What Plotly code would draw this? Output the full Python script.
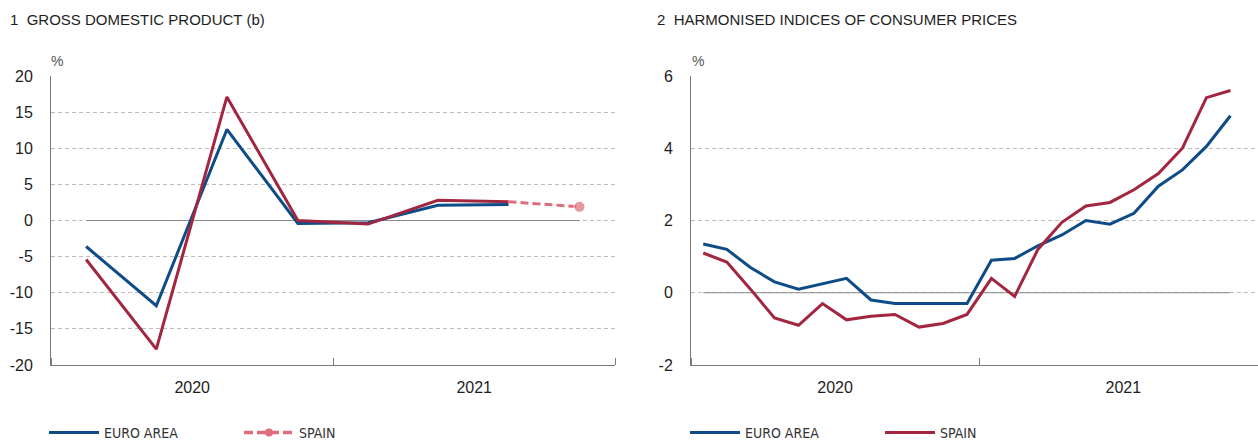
import plotly.graph_objects as go

# ---------------- data ----------------
quarters = ["2020-01-01", "2020-04-01", "2020-07-01", "2020-10-01",
            "2021-01-01", "2021-04-01", "2021-07-01", "2021-10-01"]
gdp_euro = [-3.6, -11.8, 12.6, -0.4, -0.3, 2.1, 2.2]
gdp_spain = [-5.4, -17.8, 17.1, 0.0, -0.5, 2.8, 2.6]
gdp_spain_proj_x = ["2021-07-01", "2021-10-01"]
gdp_spain_proj = [2.6, 1.9]
gdp_ticks = [-20, -15, -10, -5, 0, 5, 10, 15, 20]
gdp_ticktext = ["-20", "-15", "-10", "-5", "0", "5", "10", "15", "20"]

months = ["2020-01-01", "2020-02-01", "2020-03-01", "2020-04-01", "2020-05-01", "2020-06-01",
          "2020-07-01", "2020-08-01", "2020-09-01", "2020-10-01", "2020-11-01", "2020-12-01",
          "2021-01-01", "2021-02-01", "2021-03-01", "2021-04-01", "2021-05-01", "2021-06-01",
          "2021-07-01", "2021-08-01", "2021-09-01", "2021-10-01", "2021-11-01"]
hicp_euro = [1.35, 1.2, 0.7, 0.3, 0.1, 0.25, 0.4, -0.2, -0.3, -0.3, -0.3, -0.3,
             0.9, 0.95, 1.3, 1.6, 2.0, 1.9, 2.2, 2.95, 3.4, 4.05, 4.9]
hicp_spain = [1.1, 0.85, 0.1, -0.7, -0.9, -0.3, -0.75, -0.65, -0.6, -0.95, -0.85, -0.6,
              0.4, -0.1, 1.2, 1.95, 2.4, 2.5, 2.85, 3.3, 4.0, 5.4, 5.6]
hicp_ticks = [-2, 0, 2, 4, 6]
hicp_ticktext = ["-2", "0", "2", "4", "6"]

BLUE = "#0E4C87"
RED = "#A32640"
PINK = "#DE6E7C"
ZERO = "#8A8A8A"
GRID = "#BDBDBD"
AXIS = "#7A7A7A"
TXT = "#1E1E1E"
FONT = "Liberation Sans, Arial, sans-serif"
NARROW = "Liberation Sans Narrow, DejaVu Sans Condensed, Arial Narrow, sans-serif"

fig = go.Figure()

# ---- left chart: GDP ----
fig.add_trace(go.Scatter(x=quarters, y=[0] * len(quarters), mode="lines",
                         line=dict(color=ZERO, width=1), xperiod="M3", xperiodalignment="middle",
                         showlegend=False, hoverinfo="skip", xaxis="x", yaxis="y"))
fig.add_trace(go.Scatter(x=quarters[:len(gdp_euro)], y=gdp_euro, mode="lines", name="EURO AREA",
                         line=dict(color=BLUE, width=3), xperiod="M3", xperiodalignment="middle",
                         legend="legend", xaxis="x", yaxis="y"))
fig.add_trace(go.Scatter(x=quarters[:len(gdp_spain)], y=gdp_spain, mode="lines", name="SPAIN",
                         line=dict(color=RED, width=3), xperiod="M3", xperiodalignment="middle",
                         showlegend=False, xaxis="x", yaxis="y"))
fig.add_trace(go.Scatter(x=gdp_spain_proj_x, y=gdp_spain_proj, mode="lines+markers", name="SPAIN",
                         line=dict(color=PINK, width=3, dash="8px,4px"),
                         marker=dict(color=PINK, size=[0, 11]),
                         xperiod="M3", xperiodalignment="middle",
                         showlegend=False, xaxis="x", yaxis="y"))
# legend entry for Spain (dashed line with dot)
fig.add_trace(go.Scatter(x=[None], y=[None], mode="lines+markers", name="SPAIN",
                         line=dict(color=PINK, width=3.5, dash="9px,4px"),
                         marker=dict(color=PINK, size=8),
                         legend="legend", xaxis="x", yaxis="y"))

# ---- right chart: HICP ----
fig.add_trace(go.Scatter(x=months, y=[0] * len(months), mode="lines",
                         line=dict(color=ZERO, width=1), xperiod="M1", xperiodalignment="middle",
                         showlegend=False, hoverinfo="skip", xaxis="x2", yaxis="y2"))
fig.add_trace(go.Scatter(x=months, y=hicp_euro, mode="lines", name="EURO AREA",
                         line=dict(color=BLUE, width=3), xperiod="M1", xperiodalignment="middle",
                         legend="legend2", xaxis="x2", yaxis="y2"))
fig.add_trace(go.Scatter(x=months, y=hicp_spain, mode="lines", name="SPAIN",
                         line=dict(color=RED, width=3), xperiod="M1", xperiodalignment="middle",
                         legend="legend2", xaxis="x2", yaxis="y2"))

W, H = 1258, 443
ydom = [1 - 365 / H, 1 - 76 / H]

xcommon = dict(type="date", dtick="M12", tick0="2020-01-01", tickformat="%Y",
               ticklabelmode="period", ticks="inside", ticklen=7, tickcolor=AXIS, tickwidth=1,
               showline=True, linecolor=AXIS, linewidth=1, showgrid=False, zeroline=False,
               tickfont=dict(family=FONT, size=16, color=TXT), ticklabelstandoff=8,
               fixedrange=True)
ycommon = dict(showline=True, linecolor=AXIS, linewidth=1, ticks="", showgrid=True,
               gridcolor=GRID, gridwidth=1, griddash="4px,3px", zeroline=False,
               tickmode="array",
               tickfont=dict(family=FONT, size=16, color=TXT), ticklabelstandoff=14,
               fixedrange=True)

legcommon = dict(orientation="h", yanchor="middle", xanchor="left", bgcolor="rgba(0,0,0,0)",
                 font=dict(family=NARROW, size=14, color="#333333"), itemwidth=50,
                 entrywidth=130, entrywidthmode="pixels", itemclick=False, itemdoubleclick=False)

fig.update_layout(
    width=W, height=H, autosize=False,
    margin=dict(l=0, r=0, t=0, b=0, pad=0, autoexpand=False),
    paper_bgcolor="white", plot_bgcolor="white",
    font=dict(family=FONT, color=TXT),
    xaxis=dict(domain=[51 / W, 615 / W], range=["2020-01-01", "2022-01-01"], anchor="y", **xcommon),
    yaxis=dict(domain=ydom, range=[-20, 20], tickvals=gdp_ticks, ticktext=gdp_ticktext,
               anchor="x", **ycommon),
    xaxis2=dict(domain=[691 / W, 1.0], range=["2020-01-01", "2021-12-21"], anchor="y2", **xcommon),
    yaxis2=dict(domain=ydom, range=[-2, 6], tickvals=hicp_ticks, ticktext=hicp_ticktext,
                anchor="x2", **ycommon),
    legend=dict(x=44 / W, y=1 - 433 / H, **legcommon),
    legend2=dict(x=685 / W, y=1 - 433 / H, **legcommon),
    showlegend=True,
    annotations=[
        dict(text="1  GROSS DOMESTIC PRODUCT (b)", x=8 / W, y=1 - 20 / H, xref="paper", yref="paper",
             xanchor="left", yanchor="middle", showarrow=False,
             font=dict(family=FONT, size=15, color=TXT)),
        dict(text="2  HARMONISED INDICES OF CONSUMER PRICES", x=655 / W, y=1 - 20 / H,
             xref="paper", yref="paper", xanchor="left", yanchor="middle", showarrow=False,
             font=dict(family=FONT, size=15, color=TXT)),
        dict(text="%", x=57 / W, y=1 - 61 / H, xref="paper", yref="paper",
             xanchor="center", yanchor="middle", showarrow=False,
             font=dict(family=FONT, size=14, color="#555555")),
        dict(text="%", x=698 / W, y=1 - 61 / H, xref="paper", yref="paper",
             xanchor="center", yanchor="middle", showarrow=False,
             font=dict(family=FONT, size=14, color="#555555")),
    ],
)

fig.write_html("out.html", config={"displayModeBar": False},
               post_script="document.body.style.margin='0';document.body.style.overflow='hidden';")
